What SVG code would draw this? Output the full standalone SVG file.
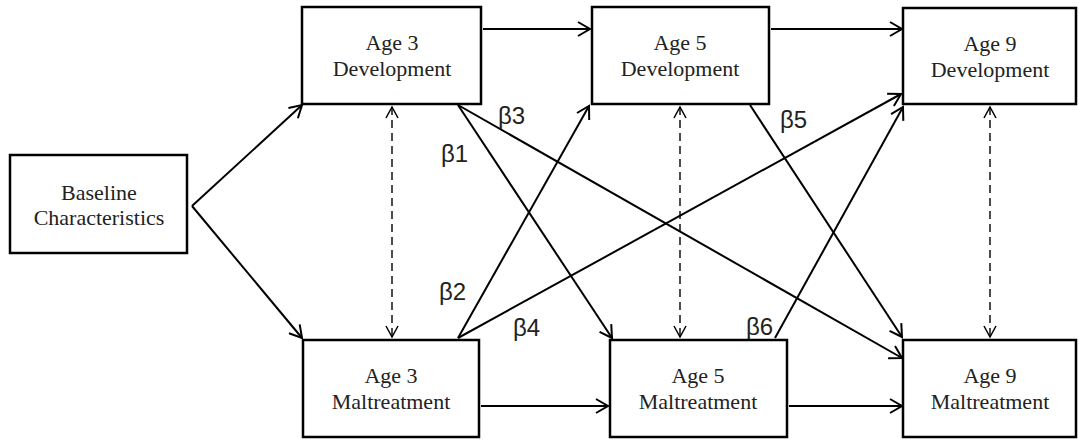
<svg xmlns="http://www.w3.org/2000/svg" width="1079" height="441" viewBox="0 0 1079 441">
<style>
.box{fill:#fff;stroke:#000;stroke-width:2.5}
.t{font-family:"Liberation Serif","Times New Roman",serif;font-size:22px;fill:#222;text-anchor:middle}
.b{font-family:"Liberation Sans",Arial,sans-serif;font-size:24px;fill:#222}
.c{fill:none;stroke:#000;stroke-width:2}
.d{fill:none;stroke:#000;stroke-width:1.4;stroke-dasharray:8 5}
</style>
<defs>
<marker id="ah" viewBox="0 0 16 16" refX="14" refY="8" markerWidth="16" markerHeight="16" markerUnits="userSpaceOnUse" orient="auto">
<path d="M2,1 L14,8 L2,15" fill="none" stroke="#000" stroke-width="2"/>
</marker>
<marker id="dh" viewBox="0 0 14 14" refX="12" refY="7" markerWidth="14" markerHeight="14" markerUnits="userSpaceOnUse" orient="auto-start-reverse">
<path d="M1,1 L12,7 L1,13" fill="none" stroke="#000" stroke-width="1.5"/>
</marker>
</defs>
<rect width="1079" height="441" fill="#fff"/>
<g id="connectors">
<line class="c" x1="192" y1="206" x2="302" y2="105" marker-end="url(#ah)"/>
<line class="c" x1="192" y1="206" x2="302" y2="338" marker-end="url(#ah)"/>
<line class="c" x1="483" y1="29" x2="590" y2="29" marker-end="url(#ah)"/>
<line class="c" x1="771" y1="29" x2="902" y2="29" marker-end="url(#ah)"/>
<line class="c" x1="481" y1="406" x2="608" y2="406" marker-end="url(#ah)"/>
<line class="c" x1="789" y1="406" x2="902" y2="406" marker-end="url(#ah)"/>
<line class="c" x1="458" y1="105" x2="612" y2="338" marker-end="url(#ah)"/>
<line class="c" x1="458" y1="105" x2="902" y2="358" marker-end="url(#ah)"/>
<line class="c" x1="458" y1="338" x2="589" y2="106" marker-end="url(#ah)"/>
<line class="c" x1="458" y1="338" x2="901" y2="94" marker-end="url(#ah)"/>
<line class="c" x1="750" y1="105" x2="902" y2="337" marker-end="url(#ah)"/>
<line class="c" x1="775" y1="338" x2="903" y2="107" marker-end="url(#ah)"/>
<line class="d" x1="392" y1="107" x2="392" y2="337" marker-start="url(#dh)" marker-end="url(#dh)"/>
<line class="d" x1="680" y1="107" x2="680" y2="337" marker-start="url(#dh)" marker-end="url(#dh)"/>
<line class="d" x1="990" y1="107" x2="990" y2="337" marker-start="url(#dh)" marker-end="url(#dh)"/>
</g>
<g id="labels">
<text class="b" x="441" y="162">β1</text>
<text class="b" x="439" y="300">β2</text>
<text class="b" x="498" y="124">β3</text>
<text class="b" x="513" y="336">β4</text>
<text class="b" x="780" y="128">β5</text>
<text class="b" x="746" y="335">β6</text>
</g>
<g id="baseline">
<rect class="box" x="10" y="155" width="177" height="98"/>
<text class="t" x="99" y="200">Baseline</text>
<text class="t" x="99" y="225">Characteristics</text>
</g>
<g id="age3dev">
<rect class="box" x="302" y="7" width="179" height="97"/>
<text class="t" x="392" y="50">Age 3</text>
<text class="t" x="392" y="76">Development</text>
</g>
<g id="age5dev">
<rect class="box" x="592" y="7" width="177" height="97"/>
<text class="t" x="680" y="50">Age 5</text>
<text class="t" x="680" y="76">Development</text>
</g>
<g id="age9dev">
<rect class="box" x="903" y="8" width="173" height="96"/>
<text class="t" x="990" y="51">Age 9</text>
<text class="t" x="990" y="77">Development</text>
</g>
<g id="age3mal">
<rect class="box" x="303" y="340" width="176" height="97"/>
<text class="t" x="391" y="383">Age 3</text>
<text class="t" x="391" y="409">Maltreatment</text>
</g>
<g id="age5mal">
<rect class="box" x="610" y="340" width="177" height="97"/>
<text class="t" x="698" y="383">Age 5</text>
<text class="t" x="698" y="409">Maltreatment</text>
</g>
<g id="age9mal">
<rect class="box" x="903" y="340" width="173" height="97"/>
<text class="t" x="990" y="383">Age 9</text>
<text class="t" x="990" y="409">Maltreatment</text>
</g>
</svg>
